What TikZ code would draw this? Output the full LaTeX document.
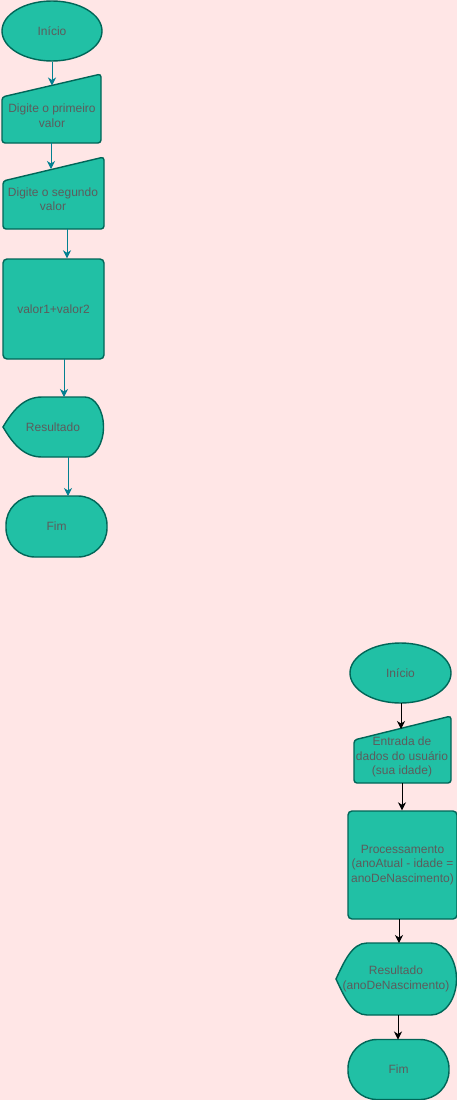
\documentclass[tikz,border=0pt]{standalone}
\usepackage{fontspec}
\setmainfont{Liberation Sans}
\usetikzlibrary{shapes.geometric,arrows.meta}
\definecolor{bgpink}{HTML}{FFE6E6}
\definecolor{shfill}{HTML}{21C0A5}
\definecolor{shdraw}{HTML}{006658}
\definecolor{txtgray}{HTML}{5C5C5C}
\definecolor{edgeteal}{HTML}{028090}
\tikzset{
  shp/.style={fill=shfill,draw=shdraw,line width=1.4pt},
  lbl/.style={text=txtgray,font=\fontsize{12}{14.5}\selectfont,align=center,inner sep=0pt},
  ovalbox/.style={shp,ellipse,minimum width=100pt,minimum height=60pt,inner sep=0pt,lbl},
  termbox/.style={shp,rectangle,rounded corners=29pt,inner sep=0pt,lbl},
  procbox/.style={shp,rectangle,rounded corners=4pt,inner sep=0pt,lbl},
  conn/.style={draw=edgeteal,line width=0.9pt,-{Stealth[length=8pt,width=8pt,inset=2.5pt]}},
  connb/.style={draw=black,line width=0.9pt,-{Stealth[length=8pt,width=8pt,inset=2.5pt]}},
}
\begin{document}
\begin{tikzpicture}[x=1pt,y=-1pt]
\useasboundingbox (0,0) rectangle (457,1100);
\fill[bgpink] (0,0) rectangle (457,1100);

% ---------- left flowchart ----------
\node[ovalbox] (a1) at (52,31) {Início};

\draw[shp,rounded corners=3pt] (2,97) -- (101,74) -- (101,143) -- (2,143) -- cycle;
\node[lbl] (a2) at (52,115.5) {Digite o primeiro\\valor};
\coordinate (a2top) at (52,85.5);
\coordinate (a2bot) at (51,143);

\draw[shp,rounded corners=3pt] (3,181) -- (104,157) -- (104,229) -- (3,229) -- cycle;
\node[lbl] (a3) at (53,199) {Digite o segundo\\valor};
\coordinate (a3top) at (51,169);
\coordinate (a3bot) at (67,229);

\node[procbox,minimum width=101pt,minimum height=100pt] (a4) at (53.5,309) {valor1+valor2};
\coordinate (a4out) at (64,359);

\draw[shp] (3,427) .. controls (13,410) and (24,397) .. (42,397) -- (85,397)
  .. controls (95,397) and (103.5,410.4) .. (103.5,427)
  .. controls (103.5,443.6) and (95,457) .. (85,457) -- (42,457)
  .. controls (24,457) and (13,444) .. (3,427) -- cycle;
\node[lbl] (a5) at (53,427) {Resultado};
\coordinate (a5top) at (64,397);
\coordinate (a5bot) at (68,457);

\node[termbox,minimum width=101pt,minimum height=61pt] (a6) at (56.5,526.5) {Fim};
\coordinate (a6top) at (68,496);

\draw[conn] (a1.south) -- (a2top);
\draw[conn] (a2bot) -- (a3top);
\draw[conn] (a3bot) -- (a3bot |- a4.north);
\draw[conn] (a4out) -- (a5top);
\draw[conn] (a5bot) -- (a6top);

% ---------- right flowchart ----------
\node[ovalbox,minimum width=101pt] (b1) at (400.5,673) {Início};
\coordinate (b1bot) at (401,703);

\draw[shp,rounded corners=3pt] (354,740) -- (451,716) -- (451,783) -- (354,783) -- cycle;
\node[lbl] (b2) at (402,757) {Entrada de\\dados do usuário\\(sua idade)};
\coordinate (b2top) at (401,729);
\coordinate (b2bot) at (402,783);

\node[procbox,minimum width=109pt,minimum height=108pt] (b3) at (402.5,865) {Processamento\\(anoAtual - idade =\\anoDeNascimento)};
\coordinate (b3bot) at (399,919);

\draw[shp] (336,979) .. controls (344,962) and (352,943) .. (367,943) -- (431,943)
  .. controls (445,943) and (456.5,959.1) .. (456.5,979)
  .. controls (456.5,998.9) and (445,1015) .. (431,1015) -- (367,1015)
  .. controls (352,1015) and (344,996) .. (336,979) -- cycle;
\node[lbl] (b4) at (396,979) {Resultado\\(anoDeNascimento)};
\coordinate (b4top) at (399,943);
\coordinate (b4bot) at (398,1015);

\node[termbox,minimum width=101pt,minimum height=60pt] (b5) at (398.5,1069.5) {Fim};
\coordinate (b5top) at (398,1039.5);

\draw[connb] (b1bot) -- (b2top);
\draw[connb] (b2bot) -- (b2bot |- b3.north);
\draw[connb] (b3bot) -- (b4top);
\draw[connb] (b4bot) -- (b5top);
\end{tikzpicture}
\end{document}
